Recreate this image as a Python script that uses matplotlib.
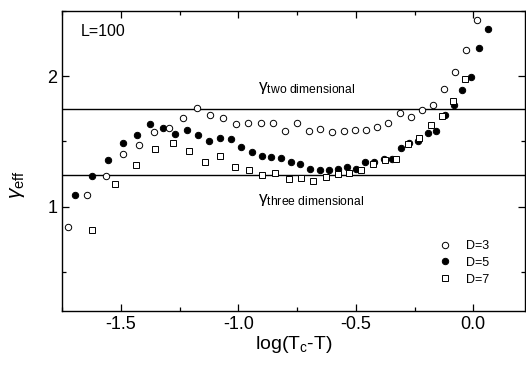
import matplotlib
matplotlib.use('Agg')
import matplotlib.pyplot as plt
from matplotlib.ticker import MultipleLocator

plt.rcParams['font.family'] = ['Liberation Sans', 'DejaVu Sans']
plt.rcParams['mathtext.fontset'] = 'custom'
plt.rcParams['mathtext.rm'] = 'Liberation Sans'
plt.rcParams['mathtext.it'] = 'Liberation Sans:italic'

# D=3 (open circles)
x_d3 = [-1.725, -1.643, -1.565, -1.492, -1.422, -1.358, -1.297, -1.237, -1.177, -1.120,
        -1.065, -1.010, -0.959, -0.905, -0.853, -0.800, -0.749, -0.700, -0.652, -0.602,
        -0.552, -0.503, -0.456, -0.409, -0.361, -0.312, -0.266, -0.218, -0.173, -0.125,
        -0.078, -0.030, 0.016]
y_d3 = [0.847, 1.087, 1.235, 1.404, 1.476, 1.573, 1.601, 1.678, 1.759, 1.703,
        1.678, 1.634, 1.640, 1.640, 1.640, 1.583, 1.640, 1.581, 1.596, 1.571,
        1.583, 1.588, 1.588, 1.614, 1.640, 1.721, 1.686, 1.742, 1.780, 1.900,
        2.033, 2.202, 2.432]

# D=5 (filled circles)
x_d5 = [-1.697, -1.622, -1.554, -1.492, -1.432, -1.375, -1.322, -1.269, -1.220, -1.170,
        -1.123, -1.078, -1.033, -0.988, -0.942, -0.898, -0.860, -0.819, -0.776, -0.737,
        -0.694, -0.654, -0.616, -0.576, -0.538, -0.498, -0.459, -0.421, -0.378, -0.345,
        -0.307, -0.272, -0.234, -0.194, -0.157, -0.119, -0.083, -0.049, -0.010, 0.026,
        0.064]
y_d5 = [1.087, 1.235, 1.358, 1.486, 1.550, 1.634, 1.601, 1.555, 1.588, 1.550,
        1.504, 1.529, 1.517, 1.460, 1.422, 1.389, 1.379, 1.371, 1.345, 1.325,
        1.289, 1.281, 1.281, 1.289, 1.307, 1.289, 1.345, 1.345, 1.363, 1.363,
        1.452, 1.486, 1.506, 1.563, 1.581, 1.703, 1.780, 1.895, 1.997, 2.215,
        2.363]

# D=7 (open squares)
x_d7 = [-1.622, -1.526, -1.435, -1.356, -1.279, -1.208, -1.140, -1.077, -1.013, -0.956,
        -0.897, -0.843, -0.786, -0.732, -0.680, -0.627, -0.576, -0.527, -0.476, -0.425,
        -0.377, -0.329, -0.276, -0.229, -0.181, -0.133, -0.085, -0.037]
y_d7 = [0.821, 1.172, 1.320, 1.440, 1.486, 1.427, 1.340, 1.391, 1.307, 1.281,
        1.243, 1.261, 1.212, 1.218, 1.197, 1.230, 1.248, 1.256, 1.278, 1.325,
        1.360, 1.363, 1.479, 1.529, 1.627, 1.696, 1.811, 1.977]

gamma_2d = 1.75
gamma_3d = 1.24

fig = plt.figure(figsize=(5.26, 3.67), dpi=100)
ax = fig.add_axes([0.118, 0.153, 0.880, 0.817])

ax.axhline(gamma_2d, color='black', lw=1.0, zorder=1)
ax.axhline(gamma_3d, color='black', lw=1.0, zorder=1)

ax.plot(x_d5, y_d5, 'o', ms=4.6, mfc='black', mec='black', mew=0.7, label='D=5', zorder=3)
ax.plot(x_d3, y_d3, 'o', ms=4.6, mfc='white', mec='black', mew=0.7, label='D=3', zorder=4)
ax.plot(x_d7, y_d7, 's', ms=4.0, mfc='white', mec='black', mew=0.7, label='D=7', zorder=5)

ax.set_xlim(-1.75, 0.22)
ax.set_ylim(0.2, 2.5)
ax.xaxis.set_major_locator(MultipleLocator(0.5))
ax.xaxis.set_minor_locator(MultipleLocator(0.25))
ax.yaxis.set_major_locator(MultipleLocator(1))
ax.yaxis.set_minor_locator(MultipleLocator(0.5))
ax.xaxis.set_major_formatter(plt.FuncFormatter(lambda v, p: f'{v:.1f}'))
ax.yaxis.set_major_formatter(plt.FuncFormatter(lambda v, p: f'{v:.0f}'))
ax.tick_params(which='both', direction='in', top=True, right=True, width=0.9, labelsize=13)
ax.tick_params(which='major', length=5)
ax.tick_params(which='minor', length=3)
for s in ax.spines.values():
    s.set_linewidth(1.0)

ax.set_xlabel(r'log(T$_{\rm c}$-T)', fontsize=14, labelpad=1)
ax.set_ylabel(r'$\gamma_{\rm eff}$', fontsize=15)
ax.yaxis.set_label_coords(-0.075, 0.42)

ax.text(0.04, 0.93, 'L=100', transform=ax.transAxes, fontsize=11.5, va='center')
ax.text(-0.915, 1.91, r'γ$_{\rm two\ dimensional}$', fontsize=12.5, va='center')
ax.text(-0.915, 1.05, r'γ$_{\rm three\ dimensional}$', fontsize=12.5, va='center')

h, l = ax.get_legend_handles_labels()
order = [1, 0, 2]
ax.legend([h[i] for i in order], [l[i] for i in order], loc='center', bbox_to_anchor=(0.865, 0.16),
          frameon=False, fontsize=9, handletextpad=0.9, labelspacing=0.38, handlelength=1.5)

fig.savefig('out.png', dpi=100)
